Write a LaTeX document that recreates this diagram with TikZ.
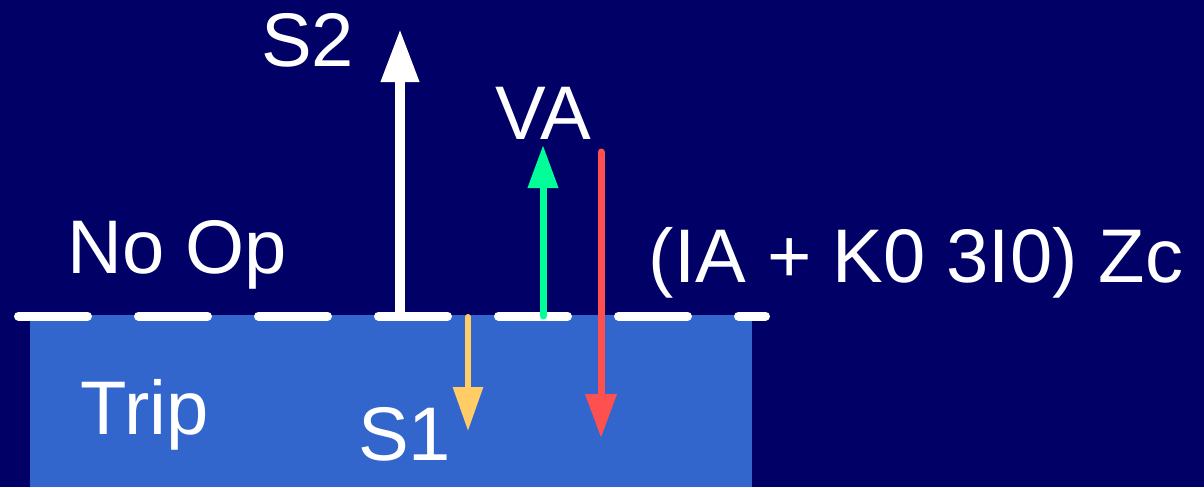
\documentclass[tikz,border=0pt]{standalone}
\usepackage{fontspec}
\setmainfont{Liberation Sans}
\usepackage{tikz}
\usetikzlibrary{arrows.meta}
\usepackage{xcolor}
\definecolor{fundo}{HTML}{000066}
\definecolor{zona}{HTML}{3366CC}
\definecolor{verde}{HTML}{00FF99}
\definecolor{vermelho}{HTML}{FF5050}
\definecolor{amarelo}{HTML}{FFCC66}
\tikzset{
  rotulo/.style={text=white,inner sep=0pt,anchor=base,font=\fontsize{38}{45}\selectfont},
  fronteira/.style={white,line width=4.5pt,line cap=round,dash pattern=on 34.5pt off 25.5pt},
  seta/.style={line width=#1,line cap=round},
}

\begin{document}
\begin{tikzpicture}[x=0.5pt,y=-0.5pt]
\useasboundingbox (0,0) rectangle (1204,487);
% Fundo e zona de disparo
\fill[fundo] (0,0) rectangle (1204,487);
\fill[zona] (30,315) rectangle (752,487);
% Fronteira
\draw[fronteira] (18.5,316) -- (765.5,316);
% Pontos das setas
\coordinate (s2base) at (400,316);
\coordinate (s2tip) at (400,29);
\coordinate (vabase) at (543,316);
\coordinate (vatip) at (543,145);
\coordinate (zcbase) at (601,152);
\coordinate (zctip) at (601,438);
\coordinate (s1base) at (468,317);
\coordinate (s1tip) at (468,431);
% Setas
\draw[seta=5pt,white,-{Triangle[length=26.5pt,width=18pt]}] (s2base) -- (s2tip);
\draw[seta=3.5pt,verde,-{Triangle[length=21.5pt,width=14.5pt]}] (vabase) -- (vatip);
\draw[seta=3.5pt,vermelho,-{Triangle[length=22pt,width=15pt]}] (zcbase) -- (zctip);
\draw[seta=3pt,amarelo,-{Triangle[length=22pt,width=14.5pt]}] (s1base) -- (s1tip);
% Rotulos
\node[rotulo] (s2) at (307.5,66) {S2};
\node[rotulo] (va) at (543,139) {VA};
\node[rotulo] (noop) at (177,273) {No Op};
\node[rotulo] (zc) at (916,282) {(IA + K0 3I0) Zc};
\node[rotulo] (trip) at (144.5,434) {Trip};
\node[rotulo] (s1) at (404.5,460) {S1};
\end{tikzpicture}
\end{document}
